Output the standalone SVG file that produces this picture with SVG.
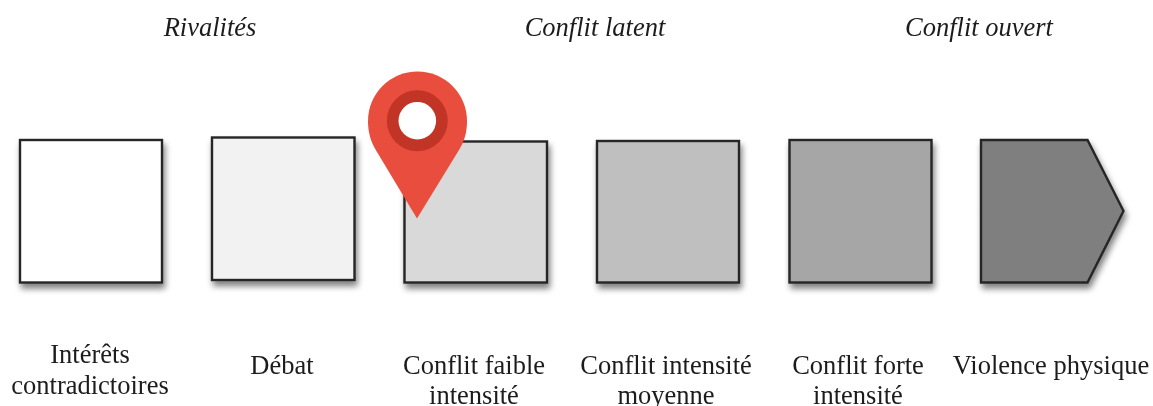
<svg xmlns="http://www.w3.org/2000/svg" width="1153" height="406" viewBox="0 0 1153 406">
<defs>
<filter id="sh" x="-15%" y="-15%" width="130%" height="130%"><feGaussianBlur in="SourceAlpha" stdDeviation="3"/><feOffset dx="2" dy="5"/><feComponentTransfer><feFuncA type="linear" slope="0.5"/></feComponentTransfer><feMerge><feMergeNode/><feMergeNode in="SourceGraphic"/></feMerge></filter>
<filter id="soft" filterUnits="userSpaceOnUse" x="0" y="0" width="1153" height="406"><feGaussianBlur stdDeviation="0.4"/></filter>
</defs>
<style>
.b{stroke:#262626;stroke-width:2.4;filter:url(#sh)}
text{font-family:"Liberation Serif","Times New Roman",serif;font-size:26.5px;fill:#1c1c1c;text-anchor:middle}
.h{font-style:italic}
</style>
<rect width="1153" height="406" fill="#fff"/>
<g filter="url(#soft)">
<g id="connectors"/>
<g id="node-rivalites"><text class="h" x="210" y="36">Rivalités</text></g>
<g id="node-latent"><text class="h" x="595" y="36">Conflit latent</text></g>
<g id="node-ouvert"><text class="h" x="979" y="36">Conflit ouvert</text></g>
<g id="node-1"><rect class="b" x="20" y="140" width="142" height="142.500" fill="#fff"/><text x="90" y="363">Intérêts</text><text x="90" y="394">contradictoires</text></g>
<g id="node-2"><rect class="b" x="212" y="137.500" width="142.500" height="142.500" fill="#f2f2f2"/><text x="282" y="374">Débat</text></g>
<g id="node-3"><rect class="b" x="404.500" y="141.500" width="142.500" height="141" fill="#d9d9d9"/><text x="474" y="374">Conflit faible</text><text x="474" y="404">intensité</text></g>
<g id="node-4"><rect class="b" x="597" y="141" width="142" height="141.500" fill="#bfbfbf"/><text x="666" y="374">Conflit intensité</text><text x="666" y="404">moyenne</text></g>
<g id="node-5"><rect class="b" x="789.500" y="140" width="142" height="142.500" fill="#a6a6a6"/><text x="858" y="374">Conflit forte</text><text x="858" y="404">intensité</text></g>
<g id="node-6"><path class="b" d="M981 140H1087.500L1123.500 211L1087.500 282.500H981Z" fill="#7f7f7f"/><text x="1051" y="374">Violence physique</text></g>
<g id="pin">
<path d="M417 218.500L375.500 149.500C370.500 141 368 132 368 121A49.500 49.500 0 0 1 467 121C467 132 464.500 141 459 150Z" fill="#e94e3d"/>
<circle cx="417.300" cy="120.700" r="30.500" fill="#c23526"/>
<circle cx="417.300" cy="120.700" r="18.800" fill="#fff"/>
</g>
</g>
</svg>
